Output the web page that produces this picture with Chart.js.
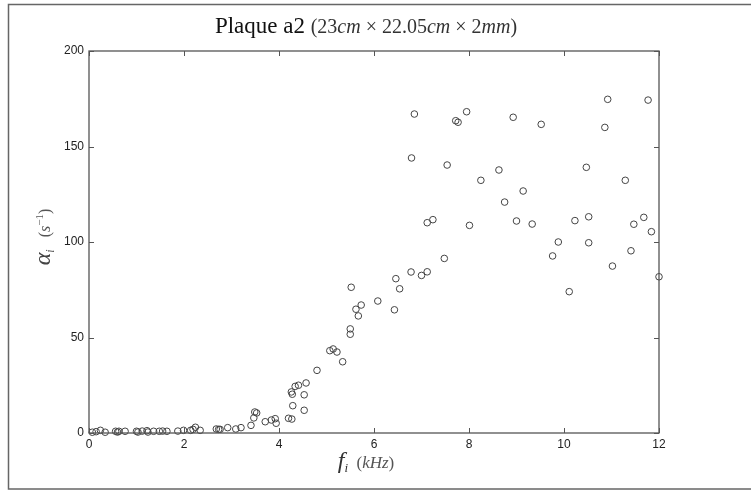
<!DOCTYPE html>
<html>
<head>
<meta charset="utf-8">
<script src="https://cdn.jsdelivr.net/npm/chart.js@4/dist/chart.umd.min.js"></script>
<style>
html,body{margin:0;padding:0;background:#fff;}
#wrap{width:751px;height:491px;position:relative;}
</style>
</head>
<body>
<div id="wrap"><canvas id="c" width="751" height="491"></canvas></div>
<script>
// Frequencies f_i (kHz)
const freqKHz = [
  0.07,0.15,0.24,0.34,0.56,0.60,0.63,0.76,1.00,1.03,1.12,1.22,1.24,1.36,1.48,1.55,1.64,1.87,1.99,2.14,
  2.19,2.24,2.34,2.68,2.73,2.76,2.92,3.09,3.20,3.41,3.47,3.49,3.53,3.71,3.84,3.92,3.94,4.20,4.27,4.29,
  4.26,4.28,4.34,4.41,4.57,4.53,4.53,4.80,5.07,5.14,5.22,5.34,5.50,5.50,5.52,5.62,5.67,5.73,6.08,6.43,
  6.46,6.54,6.78,6.79,6.85,7.00,7.12,7.12,7.24,7.48,7.54,7.72,7.77,7.95,8.01,8.25,8.63,8.75,8.93,9.00,
  9.14,9.33,9.52,9.76,9.88,10.11,10.23,10.47,10.52,10.52,10.86,10.92,11.02,11.29,11.41,11.47,11.68,11.77,11.84,12.00
];
// Damping alpha_i (s^-1)
const alphaValues = [
  0.4,0.7,1.4,0.4,0.9,0.5,0.9,0.9,0.9,0.5,1.0,1.2,0.5,0.9,0.9,1.0,0.9,1.0,1.4,1.4,
  1.9,3.0,1.4,2.1,1.9,1.9,2.8,2.1,2.8,4.0,7.9,11.0,10.5,5.9,6.8,7.5,5.1,7.7,7.3,14.3,
  21.5,20.3,24.4,25.0,26.2,20.0,11.9,32.8,43.1,44.0,42.4,37.3,54.5,51.7,76.3,64.8,61.3,67.0,69.1,64.5,
  80.8,75.5,84.3,144.0,167.0,82.5,84.4,110.1,111.7,91.4,140.3,163.5,162.7,168.2,108.7,132.3,137.7,120.9,165.3,111.0,
  126.7,109.4,161.6,92.7,100.0,74.0,111.2,139.1,113.2,99.6,160.0,174.7,87.4,132.3,95.4,109.3,112.9,174.3,105.4,81.8
];
const xTicks = [0,2,4,6,8,10,12];
const yTicks = [0,50,100,150,200];

const points = freqKHz.map((f,i)=>({x:f,y:alphaValues[i]}));

function drawRich(ctx, pieces, cx, baseY){
  let total = 0;
  pieces.forEach(p=>{ctx.font=p.f; p.w=ctx.measureText(p.t).width; total+=p.w;});
  let x = cx - total/2;
  ctx.textBaseline='alphabetic';
  ctx.textAlign='left';
  pieces.forEach(p=>{ctx.font=p.f; ctx.fillStyle=p.c||'#333'; ctx.fillText(p.t,x,baseY+(p.dy||0)); x+=p.w;});
}

const decor = {
  id:'decor',
  afterDraw(chart){
    const ctx = chart.ctx, a = chart.chartArea;
    const xs = chart.scales.x, ys = chart.scales.y;
    ctx.save();
    // outer frame
    ctx.strokeStyle='#666'; ctx.lineWidth=1.5;
    ctx.strokeRect(8.5,4.5,744,484.5);
    // plot box
    ctx.strokeStyle='#555'; ctx.lineWidth=1.3;
    ctx.strokeRect(a.left, a.top, a.right-a.left, a.bottom-a.top);
    // inward ticks
    const tl = 5;
    ctx.lineWidth=1;
    ctx.beginPath();
    xTicks.forEach(v=>{
      const px = Math.round(xs.getPixelForValue(v))+0.5;
      ctx.moveTo(px,a.bottom); ctx.lineTo(px,a.bottom-tl);
      ctx.moveTo(px,a.top); ctx.lineTo(px,a.top+tl);
    });
    yTicks.forEach(v=>{
      const py = Math.round(ys.getPixelForValue(v))+0.5;
      ctx.moveTo(a.left,py); ctx.lineTo(a.left+tl,py);
      ctx.moveTo(a.right,py); ctx.lineTo(a.right-tl,py);
    });
    ctx.stroke();
    // title
    const S='"Liberation Serif", "DejaVu Serif", serif';
    drawRich(ctx,[
      {t:'Plaque a2 ', f:'23px '+S, c:'#111'},
      {t:'(23', f:'20px '+S, c:'#333'},
      {t:'cm', f:'italic 20px '+S, c:'#333'},
      {t:' × 22.05', f:'20px '+S, c:'#333'},
      {t:'cm', f:'italic 20px '+S, c:'#333'},
      {t:' × 2', f:'20px '+S, c:'#333'},
      {t:'mm', f:'italic 20px '+S, c:'#333'},
      {t:')', f:'20px '+S, c:'#333'}
    ], 366, 33);
    // x label
    drawRich(ctx,[
      {t:'f', f:'italic 24px '+S, c:'#333'},
      {t:'i', f:'italic 13px '+S, c:'#333', dy:4},
      {t:'  (', f:'17px '+S, c:'#555'},
      {t:'kHz', f:'italic 17px '+S, c:'#555'},
      {t:')', f:'17px '+S, c:'#555'}
    ], 366, 468);
    // y label
    ctx.save();
    ctx.translate(50,237);
    ctx.rotate(-Math.PI/2);
    drawRich(ctx,[
      {t:'α', f:'italic 24px '+S, c:'#444'},
      {t:'i', f:'italic 12px '+S, c:'#555', dy:4},
      {t:'   (', f:'16px '+S, c:'#555'},
      {t:'s', f:'italic 16px '+S, c:'#555'},
      {t:'−1', f:'11px '+S, c:'#555', dy:-7},
      {t:')', f:'16px '+S, c:'#555'}
    ], 0, 0);
    ctx.restore();
    ctx.restore();
  }
};

new Chart(document.getElementById('c'),{
  type:'scatter',
  data:{datasets:[{
    data:points,
    pointStyle:'circle',
    pointRadius:3.3,
    pointBorderWidth:1,
    pointBorderColor:'#444',
    pointBackgroundColor:'rgba(0,0,0,0)',
    showLine:false,
    clip:false
  }]},
  options:{
    responsive:false,
    animation:false,
    devicePixelRatio:1,
    layout:{padding:{left:0,top:51,right:92,bottom:0}},
    plugins:{legend:{display:false},tooltip:{enabled:false},title:{display:false}},
    scales:{
      x:{
        type:'linear', min:0, max:12,
        afterFit(s){ s.height = 58; },
        afterBuildTicks(s){ s.ticks = xTicks.map(v=>({value:v})); },
        grid:{display:false, drawTicks:false},
        border:{display:false},
        ticks:{padding:4, color:'#222', font:{family:'"Liberation Sans", Arial, sans-serif', size:12}, maxRotation:0}
      },
      y:{
        type:'linear', min:0, max:200,
        afterFit(s){ s.width = 89; },
        afterBuildTicks(s){ s.ticks = yTicks.map(v=>({value:v})); },
        grid:{display:false, drawTicks:false},
        border:{display:false},
        ticks:{padding:5, color:'#222', font:{family:'"Liberation Sans", Arial, sans-serif', size:12}}
      }
    }
  },
  plugins:[decor]
});
</script>
</body>
</html>
